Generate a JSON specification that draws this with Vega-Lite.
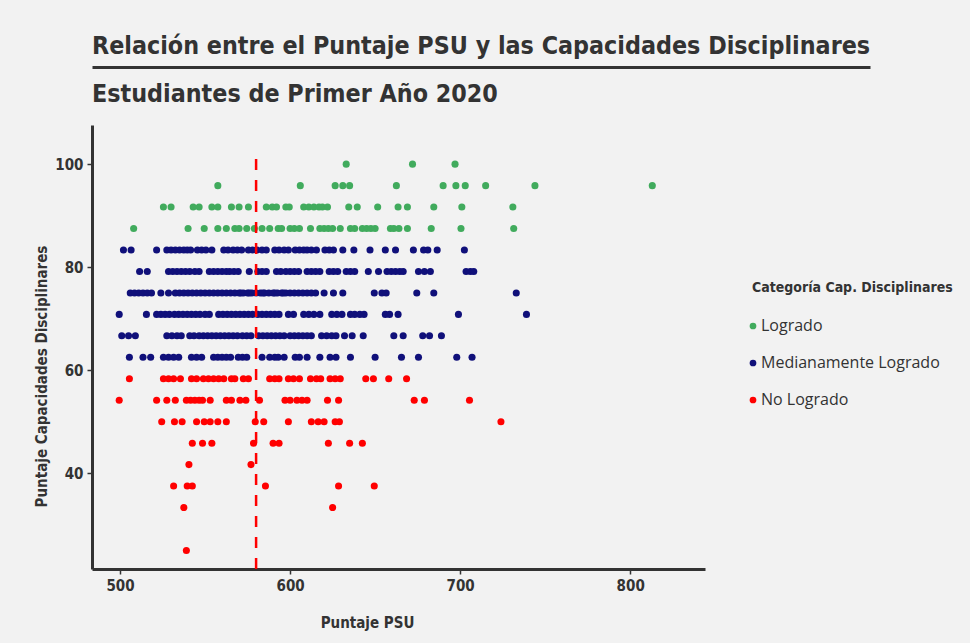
{
"$schema": "https://vega.github.io/schema/vega-lite/v6.json",
"background": "#f2f2f2",
"padding": {"left": 34, "top": 33, "right": 45, "bottom": 13},
"spacing": 12,
"config": {
  "view": {"stroke": null},
  "font": "DejaVu Sans Condensed",
  "axis": {"grid": false, "domainWidth": 3, "domainColor": "#333333", "tickColor": "#333333", "tickSize": 5, "tickWidth": 1.5, "labelFont": "DejaVu Sans Condensed", "labelFontWeight": "bold", "labelFontSize": 15, "labelColor": "#333333", "labelPadding": 4, "titleFont": "DejaVu Sans Condensed", "titleFontWeight": "bold", "titleFontSize": 15, "titleColor": "#333333"},
  "title": {"font": "DejaVu Sans Condensed", "fontWeight": "bold", "fontSize": 24.8, "color": "#333333", "anchor": "start", "frame": "group"}
},
"vconcat": [
  {
    "width": 778, "height": 1,
    "title": {"text": "Relación entre el Puntaje PSU y las Capacidades Disciplinares", "offset": 5},
    "data": {"values": [{"u": 0}]},
    "mark": {"type": "point", "opacity": 0},
    "encoding": {"x": {"field": "u", "type": "quantitative", "scale": {"domain": [0, 1]}, "axis": {"ticks": false, "labels": false, "title": null}}}
  },
  {
    "width": 613, "height": 444,
    "title": {"text": "Estudiantes de Primer Año 2020", "offset": 18},
    "layer": [
      {
        "data": {"values": [
{"psu":633,"cap":100,"cat":"Logrado"},{"psu":672,"cap":100,"cat":"Logrado"},{"psu":697,"cap":100,"cat":"Logrado"},
{"psu":557.5,"cap":95.83,"cat":"Logrado"},{"psu":606,"cap":95.83,"cat":"Logrado"},{"psu":626.5,"cap":95.83,"cat":"Logrado"},{"psu":631,"cap":95.83,"cat":"Logrado"},{"psu":635,"cap":95.83,"cat":"Logrado"},{"psu":662.5,"cap":95.83,"cat":"Logrado"},{"psu":690,"cap":95.83,"cat":"Logrado"},{"psu":697.5,"cap":95.83,"cat":"Logrado"},{"psu":703,"cap":95.83,"cat":"Logrado"},{"psu":715,"cap":95.83,"cat":"Logrado"},{"psu":744,"cap":95.83,"cat":"Logrado"},{"psu":813,"cap":95.83,"cat":"Logrado"},
{"psu":525.5,"cap":91.67,"cat":"Logrado"},{"psu":530,"cap":91.67,"cat":"Logrado"},{"psu":543,"cap":91.67,"cat":"Logrado"},{"psu":546.5,"cap":91.67,"cat":"Logrado"},{"psu":554,"cap":91.67,"cat":"Logrado"},{"psu":557.5,"cap":91.67,"cat":"Logrado"},{"psu":565.5,"cap":91.67,"cat":"Logrado"},{"psu":570,"cap":91.67,"cat":"Logrado"},{"psu":575.5,"cap":91.67,"cat":"Logrado"},{"psu":586,"cap":91.67,"cat":"Logrado"},{"psu":589.5,"cap":91.67,"cat":"Logrado"},{"psu":592,"cap":91.67,"cat":"Logrado"},{"psu":597.5,"cap":91.67,"cat":"Logrado"},{"psu":599.5,"cap":91.67,"cat":"Logrado"},{"psu":608,"cap":91.67,"cat":"Logrado"},{"psu":611,"cap":91.67,"cat":"Logrado"},{"psu":614,"cap":91.67,"cat":"Logrado"},{"psu":617,"cap":91.67,"cat":"Logrado"},{"psu":619,"cap":91.67,"cat":"Logrado"},{"psu":622,"cap":91.67,"cat":"Logrado"},{"psu":634.5,"cap":91.67,"cat":"Logrado"},{"psu":639.5,"cap":91.67,"cat":"Logrado"},{"psu":651.5,"cap":91.67,"cat":"Logrado"},{"psu":663.5,"cap":91.67,"cat":"Logrado"},{"psu":669,"cap":91.67,"cat":"Logrado"},{"psu":684.5,"cap":91.67,"cat":"Logrado"},{"psu":701,"cap":91.67,"cat":"Logrado"},{"psu":731,"cap":91.67,"cat":"Logrado"},
{"psu":508,"cap":87.5,"cat":"Logrado"},{"psu":540,"cap":87.5,"cat":"Logrado"},{"psu":549.5,"cap":87.5,"cat":"Logrado"},{"psu":557.5,"cap":87.5,"cat":"Logrado"},{"psu":562.5,"cap":87.5,"cat":"Logrado"},{"psu":567.5,"cap":87.5,"cat":"Logrado"},{"psu":570,"cap":87.5,"cat":"Logrado"},{"psu":574.5,"cap":87.5,"cat":"Logrado"},{"psu":579,"cap":87.5,"cat":"Logrado"},{"psu":583.5,"cap":87.5,"cat":"Logrado"},{"psu":588,"cap":87.5,"cat":"Logrado"},{"psu":593,"cap":87.5,"cat":"Logrado"},{"psu":595,"cap":87.5,"cat":"Logrado"},{"psu":600,"cap":87.5,"cat":"Logrado"},{"psu":602.5,"cap":87.5,"cat":"Logrado"},{"psu":605.5,"cap":87.5,"cat":"Logrado"},{"psu":612,"cap":87.5,"cat":"Logrado"},{"psu":617.5,"cap":87.5,"cat":"Logrado"},{"psu":620,"cap":87.5,"cat":"Logrado"},{"psu":622.5,"cap":87.5,"cat":"Logrado"},{"psu":625,"cap":87.5,"cat":"Logrado"},{"psu":629.5,"cap":87.5,"cat":"Logrado"},{"psu":635.5,"cap":87.5,"cat":"Logrado"},{"psu":638,"cap":87.5,"cat":"Logrado"},{"psu":642.5,"cap":87.5,"cat":"Logrado"},{"psu":645,"cap":87.5,"cat":"Logrado"},{"psu":647.5,"cap":87.5,"cat":"Logrado"},{"psu":650,"cap":87.5,"cat":"Logrado"},{"psu":659,"cap":87.5,"cat":"Logrado"},{"psu":661,"cap":87.5,"cat":"Logrado"},{"psu":664,"cap":87.5,"cat":"Logrado"},{"psu":669,"cap":87.5,"cat":"Logrado"},{"psu":683,"cap":87.5,"cat":"Logrado"},{"psu":700.5,"cap":87.5,"cat":"Logrado"},{"psu":731.5,"cap":87.5,"cat":"Logrado"},
{"psu":502,"cap":83.33,"cat":"Medianamente Logrado"},{"psu":506.5,"cap":83.33,"cat":"Medianamente Logrado"},{"psu":521.5,"cap":83.33,"cat":"Medianamente Logrado"},{"psu":527.5,"cap":83.33,"cat":"Medianamente Logrado"},{"psu":530,"cap":83.33,"cat":"Medianamente Logrado"},{"psu":532.5,"cap":83.33,"cat":"Medianamente Logrado"},{"psu":535,"cap":83.33,"cat":"Medianamente Logrado"},{"psu":537.5,"cap":83.33,"cat":"Medianamente Logrado"},{"psu":539.5,"cap":83.33,"cat":"Medianamente Logrado"},{"psu":541.5,"cap":83.33,"cat":"Medianamente Logrado"},{"psu":545.5,"cap":83.33,"cat":"Medianamente Logrado"},{"psu":548,"cap":83.33,"cat":"Medianamente Logrado"},{"psu":550.5,"cap":83.33,"cat":"Medianamente Logrado"},{"psu":554,"cap":83.33,"cat":"Medianamente Logrado"},{"psu":561,"cap":83.33,"cat":"Medianamente Logrado"},{"psu":563.5,"cap":83.33,"cat":"Medianamente Logrado"},{"psu":566.5,"cap":83.33,"cat":"Medianamente Logrado"},{"psu":569,"cap":83.33,"cat":"Medianamente Logrado"},{"psu":571.5,"cap":83.33,"cat":"Medianamente Logrado"},{"psu":575.5,"cap":83.33,"cat":"Medianamente Logrado"},{"psu":578,"cap":83.33,"cat":"Medianamente Logrado"},{"psu":580.5,"cap":83.33,"cat":"Medianamente Logrado"},{"psu":583.5,"cap":83.33,"cat":"Medianamente Logrado"},{"psu":586,"cap":83.33,"cat":"Medianamente Logrado"},{"psu":591,"cap":83.33,"cat":"Medianamente Logrado"},{"psu":593.5,"cap":83.33,"cat":"Medianamente Logrado"},{"psu":596.5,"cap":83.33,"cat":"Medianamente Logrado"},{"psu":599,"cap":83.33,"cat":"Medianamente Logrado"},{"psu":603,"cap":83.33,"cat":"Medianamente Logrado"},{"psu":605.5,"cap":83.33,"cat":"Medianamente Logrado"},{"psu":608,"cap":83.33,"cat":"Medianamente Logrado"},{"psu":610,"cap":83.33,"cat":"Medianamente Logrado"},{"psu":612.5,"cap":83.33,"cat":"Medianamente Logrado"},{"psu":615.5,"cap":83.33,"cat":"Medianamente Logrado"},{"psu":620.5,"cap":83.33,"cat":"Medianamente Logrado"},{"psu":623,"cap":83.33,"cat":"Medianamente Logrado"},{"psu":625.5,"cap":83.33,"cat":"Medianamente Logrado"},{"psu":631,"cap":83.33,"cat":"Medianamente Logrado"},{"psu":637.5,"cap":83.33,"cat":"Medianamente Logrado"},{"psu":647,"cap":83.33,"cat":"Medianamente Logrado"},{"psu":656,"cap":83.33,"cat":"Medianamente Logrado"},{"psu":662,"cap":83.33,"cat":"Medianamente Logrado"},{"psu":672.5,"cap":83.33,"cat":"Medianamente Logrado"},{"psu":678.5,"cap":83.33,"cat":"Medianamente Logrado"},{"psu":681,"cap":83.33,"cat":"Medianamente Logrado"},{"psu":686.5,"cap":83.33,"cat":"Medianamente Logrado"},{"psu":702.5,"cap":83.33,"cat":"Medianamente Logrado"},
{"psu":511.5,"cap":79.17,"cat":"Medianamente Logrado"},{"psu":516,"cap":79.17,"cat":"Medianamente Logrado"},{"psu":528.5,"cap":79.17,"cat":"Medianamente Logrado"},{"psu":531,"cap":79.17,"cat":"Medianamente Logrado"},{"psu":533.5,"cap":79.17,"cat":"Medianamente Logrado"},{"psu":536,"cap":79.17,"cat":"Medianamente Logrado"},{"psu":538.5,"cap":79.17,"cat":"Medianamente Logrado"},{"psu":541,"cap":79.17,"cat":"Medianamente Logrado"},{"psu":544,"cap":79.17,"cat":"Medianamente Logrado"},{"psu":546.5,"cap":79.17,"cat":"Medianamente Logrado"},{"psu":552.5,"cap":79.17,"cat":"Medianamente Logrado"},{"psu":555,"cap":79.17,"cat":"Medianamente Logrado"},{"psu":557.5,"cap":79.17,"cat":"Medianamente Logrado"},{"psu":560,"cap":79.17,"cat":"Medianamente Logrado"},{"psu":562.5,"cap":79.17,"cat":"Medianamente Logrado"},{"psu":564.5,"cap":79.17,"cat":"Medianamente Logrado"},{"psu":567,"cap":79.17,"cat":"Medianamente Logrado"},{"psu":569.5,"cap":79.17,"cat":"Medianamente Logrado"},{"psu":576,"cap":79.17,"cat":"Medianamente Logrado"},{"psu":581,"cap":79.17,"cat":"Medianamente Logrado"},{"psu":583.5,"cap":79.17,"cat":"Medianamente Logrado"},{"psu":586,"cap":79.17,"cat":"Medianamente Logrado"},{"psu":592,"cap":79.17,"cat":"Medianamente Logrado"},{"psu":594.5,"cap":79.17,"cat":"Medianamente Logrado"},{"psu":597.5,"cap":79.17,"cat":"Medianamente Logrado"},{"psu":600,"cap":79.17,"cat":"Medianamente Logrado"},{"psu":602.5,"cap":79.17,"cat":"Medianamente Logrado"},{"psu":605,"cap":79.17,"cat":"Medianamente Logrado"},{"psu":610,"cap":79.17,"cat":"Medianamente Logrado"},{"psu":612.5,"cap":79.17,"cat":"Medianamente Logrado"},{"psu":615,"cap":79.17,"cat":"Medianamente Logrado"},{"psu":617.5,"cap":79.17,"cat":"Medianamente Logrado"},{"psu":623,"cap":79.17,"cat":"Medianamente Logrado"},{"psu":625.5,"cap":79.17,"cat":"Medianamente Logrado"},{"psu":628,"cap":79.17,"cat":"Medianamente Logrado"},{"psu":633,"cap":79.17,"cat":"Medianamente Logrado"},{"psu":635.5,"cap":79.17,"cat":"Medianamente Logrado"},{"psu":638,"cap":79.17,"cat":"Medianamente Logrado"},{"psu":646,"cap":79.17,"cat":"Medianamente Logrado"},{"psu":652,"cap":79.17,"cat":"Medianamente Logrado"},{"psu":657,"cap":79.17,"cat":"Medianamente Logrado"},{"psu":659.5,"cap":79.17,"cat":"Medianamente Logrado"},{"psu":662,"cap":79.17,"cat":"Medianamente Logrado"},{"psu":664.5,"cap":79.17,"cat":"Medianamente Logrado"},{"psu":666.5,"cap":79.17,"cat":"Medianamente Logrado"},{"psu":675.5,"cap":79.17,"cat":"Medianamente Logrado"},{"psu":679,"cap":79.17,"cat":"Medianamente Logrado"},{"psu":682.5,"cap":79.17,"cat":"Medianamente Logrado"},{"psu":703.5,"cap":79.17,"cat":"Medianamente Logrado"},{"psu":706,"cap":79.17,"cat":"Medianamente Logrado"},{"psu":708,"cap":79.17,"cat":"Medianamente Logrado"},
{"psu":506,"cap":75,"cat":"Medianamente Logrado"},{"psu":508.5,"cap":75,"cat":"Medianamente Logrado"},{"psu":511,"cap":75,"cat":"Medianamente Logrado"},{"psu":513.5,"cap":75,"cat":"Medianamente Logrado"},{"psu":516,"cap":75,"cat":"Medianamente Logrado"},{"psu":518.5,"cap":75,"cat":"Medianamente Logrado"},{"psu":524,"cap":75,"cat":"Medianamente Logrado"},{"psu":528.5,"cap":75,"cat":"Medianamente Logrado"},{"psu":532.5,"cap":75,"cat":"Medianamente Logrado"},{"psu":535,"cap":75,"cat":"Medianamente Logrado"},{"psu":537.5,"cap":75,"cat":"Medianamente Logrado"},{"psu":540,"cap":75,"cat":"Medianamente Logrado"},{"psu":542.5,"cap":75,"cat":"Medianamente Logrado"},{"psu":545,"cap":75,"cat":"Medianamente Logrado"},{"psu":547.5,"cap":75,"cat":"Medianamente Logrado"},{"psu":550,"cap":75,"cat":"Medianamente Logrado"},{"psu":552.5,"cap":75,"cat":"Medianamente Logrado"},{"psu":555,"cap":75,"cat":"Medianamente Logrado"},{"psu":557.5,"cap":75,"cat":"Medianamente Logrado"},{"psu":560,"cap":75,"cat":"Medianamente Logrado"},{"psu":562.5,"cap":75,"cat":"Medianamente Logrado"},{"psu":565,"cap":75,"cat":"Medianamente Logrado"},{"psu":567.5,"cap":75,"cat":"Medianamente Logrado"},{"psu":570,"cap":75,"cat":"Medianamente Logrado"},{"psu":571,"cap":75,"cat":"Medianamente Logrado"},{"psu":572.5,"cap":75,"cat":"Medianamente Logrado"},{"psu":575,"cap":75,"cat":"Medianamente Logrado"},{"psu":576,"cap":75,"cat":"Medianamente Logrado"},{"psu":577.5,"cap":75,"cat":"Medianamente Logrado"},{"psu":580,"cap":75,"cat":"Medianamente Logrado"},{"psu":582.5,"cap":75,"cat":"Medianamente Logrado"},{"psu":584,"cap":75,"cat":"Medianamente Logrado"},{"psu":585,"cap":75,"cat":"Medianamente Logrado"},{"psu":587.5,"cap":75,"cat":"Medianamente Logrado"},{"psu":590,"cap":75,"cat":"Medianamente Logrado"},{"psu":591,"cap":75,"cat":"Medianamente Logrado"},{"psu":592.5,"cap":75,"cat":"Medianamente Logrado"},{"psu":595,"cap":75,"cat":"Medianamente Logrado"},{"psu":596,"cap":75,"cat":"Medianamente Logrado"},{"psu":597.5,"cap":75,"cat":"Medianamente Logrado"},{"psu":600,"cap":75,"cat":"Medianamente Logrado"},{"psu":602.5,"cap":75,"cat":"Medianamente Logrado"},{"psu":605,"cap":75,"cat":"Medianamente Logrado"},{"psu":607.5,"cap":75,"cat":"Medianamente Logrado"},{"psu":610,"cap":75,"cat":"Medianamente Logrado"},{"psu":612.5,"cap":75,"cat":"Medianamente Logrado"},{"psu":615,"cap":75,"cat":"Medianamente Logrado"},{"psu":620,"cap":75,"cat":"Medianamente Logrado"},{"psu":625.5,"cap":75,"cat":"Medianamente Logrado"},{"psu":631,"cap":75,"cat":"Medianamente Logrado"},{"psu":649.5,"cap":75,"cat":"Medianamente Logrado"},{"psu":654,"cap":75,"cat":"Medianamente Logrado"},{"psu":656.5,"cap":75,"cat":"Medianamente Logrado"},{"psu":674.5,"cap":75,"cat":"Medianamente Logrado"},{"psu":684.5,"cap":75,"cat":"Medianamente Logrado"},{"psu":733,"cap":75,"cat":"Medianamente Logrado"},
{"psu":499.5,"cap":70.83,"cat":"Medianamente Logrado"},{"psu":515.5,"cap":70.83,"cat":"Medianamente Logrado"},{"psu":521.5,"cap":70.83,"cat":"Medianamente Logrado"},{"psu":524,"cap":70.83,"cat":"Medianamente Logrado"},{"psu":526.5,"cap":70.83,"cat":"Medianamente Logrado"},{"psu":529,"cap":70.83,"cat":"Medianamente Logrado"},{"psu":532,"cap":70.83,"cat":"Medianamente Logrado"},{"psu":534.5,"cap":70.83,"cat":"Medianamente Logrado"},{"psu":537,"cap":70.83,"cat":"Medianamente Logrado"},{"psu":539.5,"cap":70.83,"cat":"Medianamente Logrado"},{"psu":542,"cap":70.83,"cat":"Medianamente Logrado"},{"psu":544.5,"cap":70.83,"cat":"Medianamente Logrado"},{"psu":547,"cap":70.83,"cat":"Medianamente Logrado"},{"psu":550,"cap":70.83,"cat":"Medianamente Logrado"},{"psu":552.5,"cap":70.83,"cat":"Medianamente Logrado"},{"psu":558,"cap":70.83,"cat":"Medianamente Logrado"},{"psu":560.5,"cap":70.83,"cat":"Medianamente Logrado"},{"psu":563,"cap":70.83,"cat":"Medianamente Logrado"},{"psu":565.5,"cap":70.83,"cat":"Medianamente Logrado"},{"psu":568,"cap":70.83,"cat":"Medianamente Logrado"},{"psu":570.5,"cap":70.83,"cat":"Medianamente Logrado"},{"psu":573,"cap":70.83,"cat":"Medianamente Logrado"},{"psu":575.5,"cap":70.83,"cat":"Medianamente Logrado"},{"psu":578,"cap":70.83,"cat":"Medianamente Logrado"},{"psu":581,"cap":70.83,"cat":"Medianamente Logrado"},{"psu":583.5,"cap":70.83,"cat":"Medianamente Logrado"},{"psu":586,"cap":70.83,"cat":"Medianamente Logrado"},{"psu":588.5,"cap":70.83,"cat":"Medianamente Logrado"},{"psu":591,"cap":70.83,"cat":"Medianamente Logrado"},{"psu":593.5,"cap":70.83,"cat":"Medianamente Logrado"},{"psu":599,"cap":70.83,"cat":"Medianamente Logrado"},{"psu":602,"cap":70.83,"cat":"Medianamente Logrado"},{"psu":608,"cap":70.83,"cat":"Medianamente Logrado"},{"psu":611,"cap":70.83,"cat":"Medianamente Logrado"},{"psu":614,"cap":70.83,"cat":"Medianamente Logrado"},{"psu":617.5,"cap":70.83,"cat":"Medianamente Logrado"},{"psu":624.5,"cap":70.83,"cat":"Medianamente Logrado"},{"psu":627.5,"cap":70.83,"cat":"Medianamente Logrado"},{"psu":630.5,"cap":70.83,"cat":"Medianamente Logrado"},{"psu":635.5,"cap":70.83,"cat":"Medianamente Logrado"},{"psu":638,"cap":70.83,"cat":"Medianamente Logrado"},{"psu":641,"cap":70.83,"cat":"Medianamente Logrado"},{"psu":643.5,"cap":70.83,"cat":"Medianamente Logrado"},{"psu":656,"cap":70.83,"cat":"Medianamente Logrado"},{"psu":658.5,"cap":70.83,"cat":"Medianamente Logrado"},{"psu":663.5,"cap":70.83,"cat":"Medianamente Logrado"},{"psu":699,"cap":70.83,"cat":"Medianamente Logrado"},{"psu":739,"cap":70.83,"cat":"Medianamente Logrado"},
{"psu":501,"cap":66.67,"cat":"Medianamente Logrado"},{"psu":505,"cap":66.67,"cat":"Medianamente Logrado"},{"psu":509,"cap":66.67,"cat":"Medianamente Logrado"},{"psu":527.5,"cap":66.67,"cat":"Medianamente Logrado"},{"psu":530.5,"cap":66.67,"cat":"Medianamente Logrado"},{"psu":533.5,"cap":66.67,"cat":"Medianamente Logrado"},{"psu":536,"cap":66.67,"cat":"Medianamente Logrado"},{"psu":541,"cap":66.67,"cat":"Medianamente Logrado"},{"psu":543.5,"cap":66.67,"cat":"Medianamente Logrado"},{"psu":546.5,"cap":66.67,"cat":"Medianamente Logrado"},{"psu":549,"cap":66.67,"cat":"Medianamente Logrado"},{"psu":551.5,"cap":66.67,"cat":"Medianamente Logrado"},{"psu":554,"cap":66.67,"cat":"Medianamente Logrado"},{"psu":556.5,"cap":66.67,"cat":"Medianamente Logrado"},{"psu":559,"cap":66.67,"cat":"Medianamente Logrado"},{"psu":561.5,"cap":66.67,"cat":"Medianamente Logrado"},{"psu":564,"cap":66.67,"cat":"Medianamente Logrado"},{"psu":566.5,"cap":66.67,"cat":"Medianamente Logrado"},{"psu":569,"cap":66.67,"cat":"Medianamente Logrado"},{"psu":572,"cap":66.67,"cat":"Medianamente Logrado"},{"psu":574.5,"cap":66.67,"cat":"Medianamente Logrado"},{"psu":577,"cap":66.67,"cat":"Medianamente Logrado"},{"psu":581.5,"cap":66.67,"cat":"Medianamente Logrado"},{"psu":584,"cap":66.67,"cat":"Medianamente Logrado"},{"psu":586.5,"cap":66.67,"cat":"Medianamente Logrado"},{"psu":589,"cap":66.67,"cat":"Medianamente Logrado"},{"psu":591.5,"cap":66.67,"cat":"Medianamente Logrado"},{"psu":594,"cap":66.67,"cat":"Medianamente Logrado"},{"psu":596.5,"cap":66.67,"cat":"Medianamente Logrado"},{"psu":600,"cap":66.67,"cat":"Medianamente Logrado"},{"psu":602.5,"cap":66.67,"cat":"Medianamente Logrado"},{"psu":605,"cap":66.67,"cat":"Medianamente Logrado"},{"psu":607.5,"cap":66.67,"cat":"Medianamente Logrado"},{"psu":610,"cap":66.67,"cat":"Medianamente Logrado"},{"psu":612.5,"cap":66.67,"cat":"Medianamente Logrado"},{"psu":618.5,"cap":66.67,"cat":"Medianamente Logrado"},{"psu":621.5,"cap":66.67,"cat":"Medianamente Logrado"},{"psu":624.5,"cap":66.67,"cat":"Medianamente Logrado"},{"psu":627,"cap":66.67,"cat":"Medianamente Logrado"},{"psu":632,"cap":66.67,"cat":"Medianamente Logrado"},{"psu":636.5,"cap":66.67,"cat":"Medianamente Logrado"},{"psu":643,"cap":66.67,"cat":"Medianamente Logrado"},{"psu":661,"cap":66.67,"cat":"Medianamente Logrado"},{"psu":666.5,"cap":66.67,"cat":"Medianamente Logrado"},{"psu":678,"cap":66.67,"cat":"Medianamente Logrado"},{"psu":682,"cap":66.67,"cat":"Medianamente Logrado"},{"psu":689,"cap":66.67,"cat":"Medianamente Logrado"},
{"psu":505.5,"cap":62.5,"cat":"Medianamente Logrado"},{"psu":513.5,"cap":62.5,"cat":"Medianamente Logrado"},{"psu":518,"cap":62.5,"cat":"Medianamente Logrado"},{"psu":525.5,"cap":62.5,"cat":"Medianamente Logrado"},{"psu":528.5,"cap":62.5,"cat":"Medianamente Logrado"},{"psu":531.5,"cap":62.5,"cat":"Medianamente Logrado"},{"psu":534.5,"cap":62.5,"cat":"Medianamente Logrado"},{"psu":542,"cap":62.5,"cat":"Medianamente Logrado"},{"psu":545,"cap":62.5,"cat":"Medianamente Logrado"},{"psu":548,"cap":62.5,"cat":"Medianamente Logrado"},{"psu":555,"cap":62.5,"cat":"Medianamente Logrado"},{"psu":557.5,"cap":62.5,"cat":"Medianamente Logrado"},{"psu":560,"cap":62.5,"cat":"Medianamente Logrado"},{"psu":562.5,"cap":62.5,"cat":"Medianamente Logrado"},{"psu":565,"cap":62.5,"cat":"Medianamente Logrado"},{"psu":569.5,"cap":62.5,"cat":"Medianamente Logrado"},{"psu":572,"cap":62.5,"cat":"Medianamente Logrado"},{"psu":574.5,"cap":62.5,"cat":"Medianamente Logrado"},{"psu":583.5,"cap":62.5,"cat":"Medianamente Logrado"},{"psu":588,"cap":62.5,"cat":"Medianamente Logrado"},{"psu":591,"cap":62.5,"cat":"Medianamente Logrado"},{"psu":593,"cap":62.5,"cat":"Medianamente Logrado"},{"psu":596.5,"cap":62.5,"cat":"Medianamente Logrado"},{"psu":603,"cap":62.5,"cat":"Medianamente Logrado"},{"psu":605.5,"cap":62.5,"cat":"Medianamente Logrado"},{"psu":610,"cap":62.5,"cat":"Medianamente Logrado"},{"psu":617.5,"cap":62.5,"cat":"Medianamente Logrado"},{"psu":623.5,"cap":62.5,"cat":"Medianamente Logrado"},{"psu":627,"cap":62.5,"cat":"Medianamente Logrado"},{"psu":635.5,"cap":62.5,"cat":"Medianamente Logrado"},{"psu":650,"cap":62.5,"cat":"Medianamente Logrado"},{"psu":665.5,"cap":62.5,"cat":"Medianamente Logrado"},{"psu":675.5,"cap":62.5,"cat":"Medianamente Logrado"},{"psu":698,"cap":62.5,"cat":"Medianamente Logrado"},{"psu":707,"cap":62.5,"cat":"Medianamente Logrado"},
{"psu":505.5,"cap":58.33,"cat":"No Logrado"},{"psu":525.5,"cap":58.33,"cat":"No Logrado"},{"psu":528.5,"cap":58.33,"cat":"No Logrado"},{"psu":531.5,"cap":58.33,"cat":"No Logrado"},{"psu":535.5,"cap":58.33,"cat":"No Logrado"},{"psu":542,"cap":58.33,"cat":"No Logrado"},{"psu":545,"cap":58.33,"cat":"No Logrado"},{"psu":549,"cap":58.33,"cat":"No Logrado"},{"psu":552,"cap":58.33,"cat":"No Logrado"},{"psu":555,"cap":58.33,"cat":"No Logrado"},{"psu":558,"cap":58.33,"cat":"No Logrado"},{"psu":561,"cap":58.33,"cat":"No Logrado"},{"psu":565.5,"cap":58.33,"cat":"No Logrado"},{"psu":567.5,"cap":58.33,"cat":"No Logrado"},{"psu":572.5,"cap":58.33,"cat":"No Logrado"},{"psu":575.5,"cap":58.33,"cat":"No Logrado"},{"psu":588,"cap":58.33,"cat":"No Logrado"},{"psu":591,"cap":58.33,"cat":"No Logrado"},{"psu":593.5,"cap":58.33,"cat":"No Logrado"},{"psu":599,"cap":58.33,"cat":"No Logrado"},{"psu":602,"cap":58.33,"cat":"No Logrado"},{"psu":605.5,"cap":58.33,"cat":"No Logrado"},{"psu":612,"cap":58.33,"cat":"No Logrado"},{"psu":615.5,"cap":58.33,"cat":"No Logrado"},{"psu":618,"cap":58.33,"cat":"No Logrado"},{"psu":623.5,"cap":58.33,"cat":"No Logrado"},{"psu":626.5,"cap":58.33,"cat":"No Logrado"},{"psu":629.5,"cap":58.33,"cat":"No Logrado"},{"psu":644.5,"cap":58.33,"cat":"No Logrado"},{"psu":649,"cap":58.33,"cat":"No Logrado"},{"psu":658,"cap":58.33,"cat":"No Logrado"},{"psu":668.5,"cap":58.33,"cat":"No Logrado"},
{"psu":499.5,"cap":54.17,"cat":"No Logrado"},{"psu":521.5,"cap":54.17,"cat":"No Logrado"},{"psu":527.5,"cap":54.17,"cat":"No Logrado"},{"psu":532.5,"cap":54.17,"cat":"No Logrado"},{"psu":539,"cap":54.17,"cat":"No Logrado"},{"psu":541.5,"cap":54.17,"cat":"No Logrado"},{"psu":544,"cap":54.17,"cat":"No Logrado"},{"psu":546.5,"cap":54.17,"cat":"No Logrado"},{"psu":548.5,"cap":54.17,"cat":"No Logrado"},{"psu":553,"cap":54.17,"cat":"No Logrado"},{"psu":562.5,"cap":54.17,"cat":"No Logrado"},{"psu":565.5,"cap":54.17,"cat":"No Logrado"},{"psu":570.5,"cap":54.17,"cat":"No Logrado"},{"psu":574,"cap":54.17,"cat":"No Logrado"},{"psu":582,"cap":54.17,"cat":"No Logrado"},{"psu":597,"cap":54.17,"cat":"No Logrado"},{"psu":600,"cap":54.17,"cat":"No Logrado"},{"psu":604,"cap":54.17,"cat":"No Logrado"},{"psu":607,"cap":54.17,"cat":"No Logrado"},{"psu":610,"cap":54.17,"cat":"No Logrado"},{"psu":622,"cap":54.17,"cat":"No Logrado"},{"psu":628.5,"cap":54.17,"cat":"No Logrado"},{"psu":673,"cap":54.17,"cat":"No Logrado"},{"psu":679,"cap":54.17,"cat":"No Logrado"},{"psu":705.5,"cap":54.17,"cat":"No Logrado"},
{"psu":524.5,"cap":50,"cat":"No Logrado"},{"psu":532,"cap":50,"cat":"No Logrado"},{"psu":536.5,"cap":50,"cat":"No Logrado"},{"psu":545,"cap":50,"cat":"No Logrado"},{"psu":549.5,"cap":50,"cat":"No Logrado"},{"psu":553,"cap":50,"cat":"No Logrado"},{"psu":557.5,"cap":50,"cat":"No Logrado"},{"psu":562.5,"cap":50,"cat":"No Logrado"},{"psu":579.5,"cap":50,"cat":"No Logrado"},{"psu":584.5,"cap":50,"cat":"No Logrado"},{"psu":599,"cap":50,"cat":"No Logrado"},{"psu":612.5,"cap":50,"cat":"No Logrado"},{"psu":616.5,"cap":50,"cat":"No Logrado"},{"psu":620,"cap":50,"cat":"No Logrado"},{"psu":626.5,"cap":50,"cat":"No Logrado"},{"psu":629,"cap":50,"cat":"No Logrado"},{"psu":724,"cap":50,"cat":"No Logrado"},
{"psu":542.5,"cap":45.83,"cat":"No Logrado"},{"psu":548.5,"cap":45.83,"cat":"No Logrado"},{"psu":554,"cap":45.83,"cat":"No Logrado"},{"psu":578.5,"cap":45.83,"cat":"No Logrado"},{"psu":590,"cap":45.83,"cat":"No Logrado"},{"psu":593.5,"cap":45.83,"cat":"No Logrado"},{"psu":622.5,"cap":45.83,"cat":"No Logrado"},{"psu":635,"cap":45.83,"cat":"No Logrado"},{"psu":642.5,"cap":45.83,"cat":"No Logrado"},
{"psu":540.5,"cap":41.67,"cat":"No Logrado"},{"psu":577,"cap":41.67,"cat":"No Logrado"},
{"psu":531.5,"cap":37.5,"cat":"No Logrado"},{"psu":539.5,"cap":37.5,"cat":"No Logrado"},{"psu":542.5,"cap":37.5,"cat":"No Logrado"},{"psu":585.5,"cap":37.5,"cat":"No Logrado"},{"psu":628.5,"cap":37.5,"cat":"No Logrado"},{"psu":649.5,"cap":37.5,"cat":"No Logrado"},
{"psu":537.5,"cap":33.33,"cat":"No Logrado"},{"psu":625,"cap":33.33,"cat":"No Logrado"},
{"psu":539,"cap":25,"cat":"No Logrado"}
        ]},
        "mark": {"type": "circle", "size": 50, "opacity": 1},
        "encoding": {
          "x": {"field": "psu", "type": "quantitative", "scale": {"domain": [483.5, 844], "nice": false, "zero": false}, "axis": {"values": [500, 600, 700, 800], "title": "Puntaje PSU", "titleX": 275, "titlePadding": 22}},
          "y": {"field": "cap", "type": "quantitative", "scale": {"domain": [21.4, 107.6], "nice": false, "zero": false}, "axis": {"values": [40, 60, 80, 100], "title": "Puntaje Capacidades Disciplinares", "titleY": 251, "titlePadding": 5}},
          "color": {"field": "cat", "type": "nominal", "scale": {"domain": ["Logrado", "Medianamente Logrado", "No Logrado"], "range": ["#41ab5d", "#10107a", "#ff0000"]},
            "legend": {"title": "Categoría Cap. Disciplinares", "orient": "none", "legendX": 660, "legendY": 215, "titleFont": "DejaVu Sans Condensed", "titleFontWeight": "bold", "titleFontSize": 14, "titleColor": "#333333", "titlePadding": 23, "titleLimit": 400, "labelLimit": 400, "labelFont": "Open Sans", "labelFontSize": 16, "labelColor": "#333333", "labelOffset": 0, "symbolOffset": -7, "rowPadding": 21, "symbolType": "circle", "symbolSize": 45, "symbolStrokeWidth": 0}}
        }
      },
      {
        "data": {"values": [{"psu": 580}]},
        "mark": {"type": "rule", "color": "#ff0000", "strokeWidth": 2.5, "strokeDash": [11, 10]},
        "encoding": {"x": {"field": "psu", "type": "quantitative", "axis": {"title": "Puntaje PSU"}}, "y": {"datum": 21.4}, "y2": {"datum": 102.5}}
      }
    ]
  }
]
}
